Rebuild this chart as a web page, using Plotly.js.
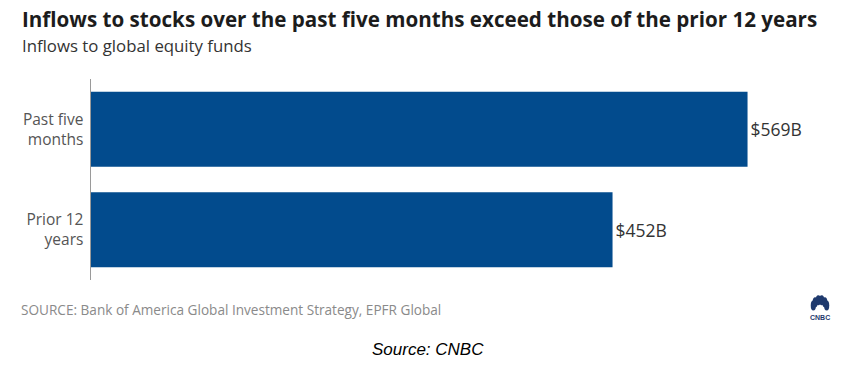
<!DOCTYPE html>
<html>
<head>
<meta charset="utf-8">
<script src="https://cdn.plot.ly/plotly-3.0.1.min.js"></script>
<style>html,body{margin:0;padding:0;background:#fff;}#chart{width:855px;height:372px;}</style>
</head>
<body>
<div id="chart"></div>
<script>
const categories = ["Past five<br>months", "Prior 12<br>years"];
const inflowsB = [569, 452];
const valuePrefix = "$";
const valueSuffix = "B";

const W = 855, H = 372;
const L = 91, R = 14, T = 79, B = 92;
const pw = W - L - R, ph = H - T - B;
function px(x) { return (x - L) / pw; }
function py(y) { return (H - B - y) / ph; }

const FONT = "'Open Sans', Roboto, sans-serif";

const trace = {
  type: "bar",
  orientation: "h",
  y: categories,
  x: inflowsB,
  marker: { color: "#024b8d", line: { width: 0 } },
  width: 0.745,
  text: inflowsB.map(v => valuePrefix + v + valueSuffix),
  textposition: "outside",
  textfont: { family: FONT, size: 17.5, color: "#333" },
  cliponaxis: false,
  hoverinfo: "none"
};

// CNBC peacock logo approximation
const feathers = [];
const fcx = 820, fcy = 308;
const angles = [-72, -43, -14, 14, 43, 72];
angles.forEach(a => {
  const r = Math.PI * a / 180;
  const cx = fcx + Math.sin(r) * 7;
  const cy = fcy - Math.cos(r) * 8;
  feathers.push({
    type: "circle", xref: "paper", yref: "paper",
    x0: px(cx - 2.6), x1: px(cx + 2.6), y0: py(cy + 5), y1: py(cy - 5),
    fillcolor: "#1f3a6e", line: { width: 0 }
  });
});

const layout = {
  width: W, height: H,
  margin: { l: L, r: R, t: T, b: B, pad: 0 },
  paper_bgcolor: "#fff",
  plot_bgcolor: "#fff",
  showlegend: false,
  bargap: 0.255,
  xaxis: {
    range: [0, 650],
    visible: false,
    fixedrange: true
  },
  yaxis: {
    type: "category",
    autorange: "reversed",
    showline: true,
    linecolor: "#9a9a9a",
    linewidth: 1.5,
    showgrid: false,
    zeroline: false,
    ticks: "",
    ticklabelstandoff: 3,
    tickfont: { family: FONT, size: 15.5, color: "#555" },
    fixedrange: true
  },
  annotations: [
    {
      text: "<b>Inflows to stocks over the past five months exceed those of the prior 12 years</b>",
      xref: "paper", yref: "paper", x: px(20), y: py(19),
      xanchor: "left", yanchor: "middle", showarrow: false,
      font: { family: FONT, size: 20.6, color: "#1c1c1c" }
    },
    {
      text: "Inflows to global equity funds",
      xref: "paper", yref: "paper", x: px(20), y: py(45),
      xanchor: "left", yanchor: "middle", showarrow: false,
      font: { family: FONT, size: 16.8, color: "#333" }
    },
    {
      text: "SOURCE: Bank of America Global Investment Strategy, EPFR Global",
      xref: "paper", yref: "paper", x: px(19), y: py(309),
      xanchor: "left", yanchor: "middle", showarrow: false,
      font: { family: FONT, size: 13.6, color: "#8a8a8a" }
    },
    {
      text: "<i>Source: CNBC</i>",
      xref: "paper", yref: "paper", x: px(428), y: py(349),
      xanchor: "center", yanchor: "middle", showarrow: false,
      font: { family: "Liberation Sans, Arial, sans-serif", size: 17, color: "#000" }
    },
    {
      text: "<b>CNBC</b>",
      xref: "paper", yref: "paper", x: px(820), y: py(317),
      xanchor: "center", yanchor: "middle", showarrow: false,
      font: { family: "Liberation Sans, Arial, sans-serif", size: 7, color: "#1f3a6e" }
    }
  ],
  shapes: feathers
};

Plotly.newPlot("chart", [trace], layout, { displayModeBar: false, staticPlot: true });
</script>
</body>
</html>
